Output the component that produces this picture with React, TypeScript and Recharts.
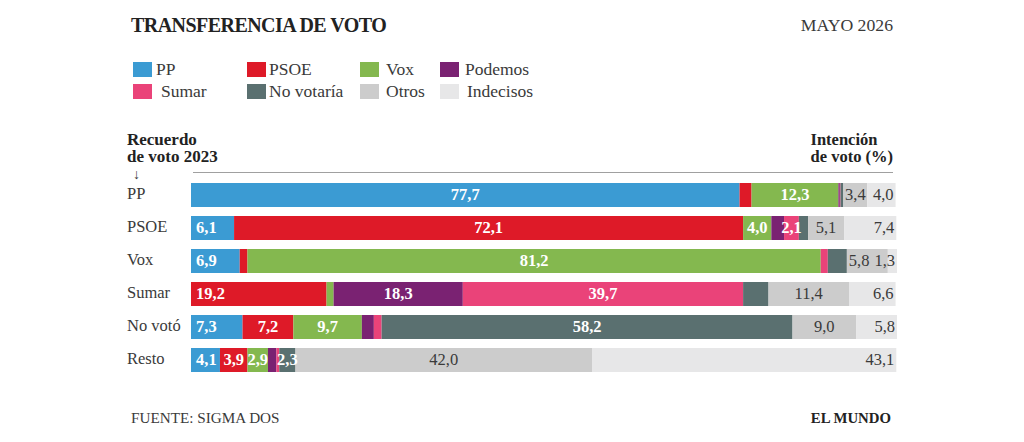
import React from 'react';
import { BarChart, Bar, XAxis, YAxis, Legend, LabelList } from 'recharts';

const FONT = '"Liberation Serif", serif';
const INK = '#3a3a3a';

// filas y series
const rows = ['PP', 'PSOE', 'Vox', 'Sumar', 'No votó', 'Resto'];
const pp = [77.7, 6.1, 6.9, 0, 7.3, 4.1];
const psoe = [1.7, 72.1, 1.1, 19.2, 7.2, 3.9];
const vox = [12.3, 4.0, 81.2, 1.0, 9.7, 2.9];
const podemos = [0.2, 1.8, 0, 18.3, 1.7, 1.2];
const sumar = [0.1, 2.1, 1.0, 39.7, 1.1, 0.4];
const noVotaria = [0.4, 1.3, 2.7, 3.6, 58.2, 2.3];
const otros = [3.4, 5.1, 5.8, 11.4, 9.0, 42.0];
const indecisos = [4.0, 7.4, 1.3, 6.6, 5.8, 43.1];

// filas donde No votaria va sin cifra
const noVotariaSinCifra = ['PP', 'PSOE', 'Vox', 'Sumar'];

const series = [
  { key: 'PP', values: pp, color: '#3b9bd3', text: '#fff', minLabel: 2 },
  { key: 'PSOE', values: psoe, color: '#de1a28', text: '#fff', minLabel: 2 },
  { key: 'Vox', values: vox, color: '#84b84f', text: '#fff', minLabel: 2 },
  { key: 'Podemos', values: podemos, color: '#7a2272', text: '#fff', minLabel: 2 },
  { key: 'Sumar', values: sumar, color: '#ea4379', text: '#fff', minLabel: 2 },
  { key: 'No votaría', values: noVotaria, color: '#5a7070', text: '#fff', minLabel: 2 },
  { key: 'Otros', values: otros, color: '#cccccc', text: INK, minLabel: 0 },
  { key: 'Indecisos', values: indecisos, color: '#e7e7e8', text: INK, minLabel: 0 },
];

const chartData = rows.map((row, i) => {
  const item: Record<string, string | number> = { row };
  series.forEach((s) => {
    item[s.key] = s.values[i];
  });
  return item;
});

const PLOT_LEFT = 191;

const SegmentLabel = (props: any) => {
  const { x, y, width, height, value, index, serie } = props;
  if (value < serie.minLabel) return null;
  if (serie.key === 'No votaría' && noVotariaSinCifra.includes(rows[index])) return null;

  let tx = x + width / 2;
  let anchor = 'middle';
  if (serie.key === 'Indecisos') {
    tx = x + width - 2;
    anchor = 'end';
  } else if (serie.key === 'Otros' && indecisos[index] < 2) {
    // la cifra de Indecisos no cabe: Otros se aparta a la izquierda
    tx = x + 2;
    anchor = 'start';
  } else if (Math.abs(x - PLOT_LEFT) < 1 && value < 50) {
    // primer tramo de la fila: cifra pegada a la izquierda
    tx = x + 5;
    anchor = 'start';
  }
  return (
    <text
      x={tx}
      y={y + height / 2 + 1}
      textAnchor={anchor}
      dominantBaseline="middle"
      fill={serie.text}
      fontFamily={FONT}
      fontSize={16.5}
      fontWeight={serie.text === '#fff' ? 700 : 400}
    >
      {String(value.toFixed(1)).replace('.', ',')}
    </text>
  );
};

const RowTick = (props: any) => {
  const { y, payload } = props;
  return (
    <text x={127} y={y + 1} dominantBaseline="middle" fill={INK} fontFamily={FONT} fontSize={16.5}>
      {payload.value}
    </text>
  );
};

const legendSwatchX = [133, 247, 360, 440];
const legendTextX = [
  [156, 269, 386, 465],
  [161, 269, 386, 467],
];
const legendRowY = [62, 84];

const LegendContent = (props: any) => (
  <div style={{ position: 'relative', width: 1024, height: 120 }}>
    {(props.payload || []).map((entry: any, i: number) => {
      const r = Math.floor(i / 4);
      const c = i % 4;
      return (
        <React.Fragment key={entry.value}>
          <div
            style={{
              position: 'absolute',
              left: legendSwatchX[c],
              top: legendRowY[r],
              width: 19,
              height: 15,
              background: entry.color,
            }}
          />
          <div
            style={{
              position: 'absolute',
              left: legendTextX[r][c],
              top: legendRowY[r] - 3,
              fontFamily: FONT,
              fontSize: 17.5,
              lineHeight: '20px',
              color: INK,
              whiteSpace: 'nowrap',
            }}
          >
            {entry.value}
          </div>
        </React.Fragment>
      );
    })}
  </div>
);

const textAt = (style: React.CSSProperties): React.CSSProperties => ({
  position: 'absolute',
  fontFamily: FONT,
  color: '#222',
  whiteSpace: 'nowrap',
  ...style,
});

export default function App() {
  return (
    <div style={{ position: 'absolute', left: 0, top: 0, width: 1024, height: 442, background: '#fff', overflow: 'hidden' }}>
      <BarChart
        width={1024}
        height={442}
        data={chartData}
        layout="vertical"
        barSize={24}
        margin={{ top: 178, right: 127, bottom: 66, left: 127 }}
      >
        <XAxis type="number" domain={[0, 100]} hide />
        <YAxis type="category" dataKey="row" width={64} interval={0} tick={<RowTick />} axisLine={false} tickLine={false} />
        <Legend
          content={<LegendContent />}
          itemSorter={null}
          layout="horizontal"
          verticalAlign="middle"
          align="center"
          wrapperStyle={{ left: 0, top: 0, width: 1024 }}
        />
        {series.map((s) => (
          <Bar key={s.key} dataKey={s.key} stackId="voto" fill={s.color} isAnimationActive={false}>
            <LabelList dataKey={s.key} content={(p: any) => <SegmentLabel {...p} serie={s} />} />
          </Bar>
        ))}
      </BarChart>

      <div style={textAt({ left: 131, top: 12, fontSize: 20, letterSpacing: -0.55, fontWeight: 700, lineHeight: '26px' })}>TRANSFERENCIA DE VOTO</div>
      <div style={textAt({ right: 131, top: 13, fontSize: 17.7, lineHeight: '24px', color: INK })}>MAYO 2026</div>
      <div style={textAt({ left: 127, top: 131, fontSize: 17, fontWeight: 700, lineHeight: '17px' })}>
        Recuerdo
        <br />
        de voto 2023
      </div>
      <div style={textAt({ left: 133, top: 168, fontSize: 14, lineHeight: '14px', color: INK })}>↓</div>
      <div style={textAt({ right: 131, top: 131, fontSize: 16.5, fontWeight: 700, lineHeight: '17px' })}>
        Intención
        <br />
        de voto (%)
      </div>
      <div style={{ position: 'absolute', left: 193, top: 172, width: 700, height: 1, background: '#a0a0a0' }} />
      <div style={textAt({ left: 131, top: 408, fontSize: 15.2, lineHeight: '20px', color: INK })}>FUENTE: SIGMA DOS</div>
      <div style={textAt({ right: 133, top: 408, fontSize: 14.8, fontWeight: 700, lineHeight: '20px' })}>EL MUNDO</div>
    </div>
  );
}
